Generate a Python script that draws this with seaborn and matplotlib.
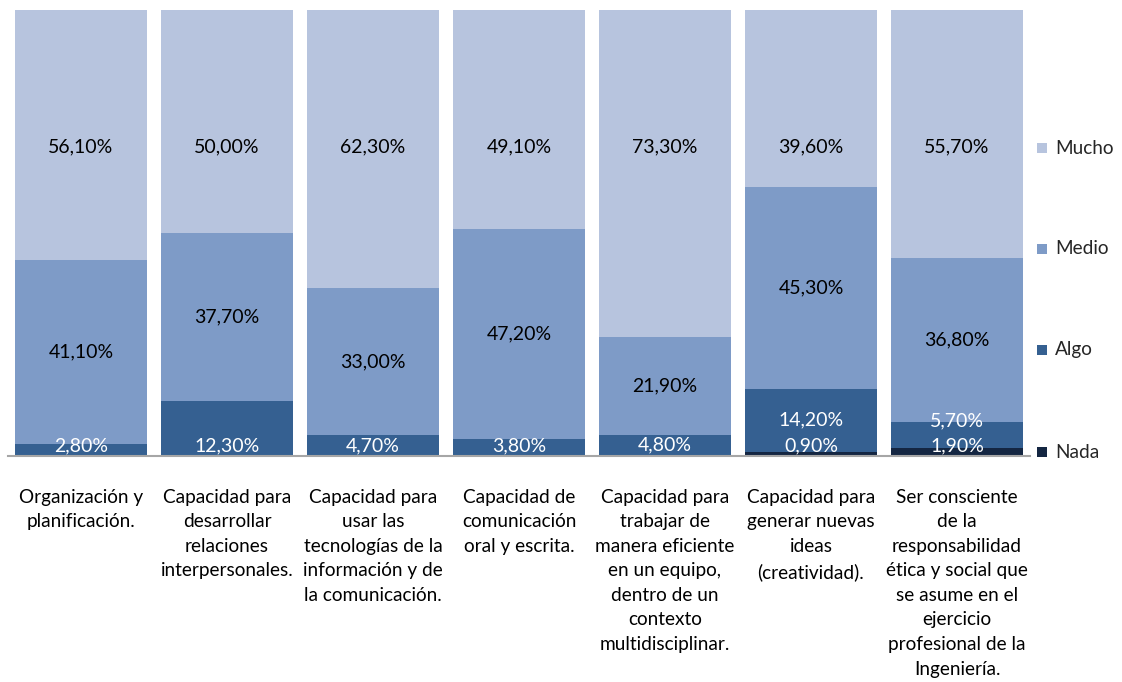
import numpy as np
import pandas as pd
import matplotlib
matplotlib.use("Agg")
import matplotlib.pyplot as plt
from matplotlib.patches import Rectangle
import seaborn as sns

categories = [
    "Organización y\nplanificación.",
    "Capacidad para\ndesarrollar\nrelaciones\ninterpersonales.",
    "Capacidad para\nusar las\ntecnologías de la\ninformación y de\nla comunicación.",
    "Capacidad de\ncomunicación\noral y escrita.",
    "Capacidad para\ntrabajar de\nmanera eficiente\nen un equipo,\ndentro de un\ncontexto\nmultidisciplinar.",
    "Capacidad para\ngenerar nuevas\nideas\n(creatividad).",
    "Ser consciente\nde la\nresponsabilidad\nética y social que\nse asume en el\nejercicio\nprofesional de la\nIngeniería.",
]
series_names = ["Nada", "Algo", "Medio", "Mucho"]
nada = [0.0, 0.0, 0.0, 0.0, 0.0, 0.9, 1.9]
algo = [2.8, 12.3, 4.7, 3.8, 4.8, 14.2, 5.7]
medio = [41.1, 37.7, 33.0, 47.2, 21.9, 45.3, 36.8]
mucho = [56.1, 50.0, 62.3, 49.1, 73.3, 39.6, 55.7]

colors = {"Nada": "#142642", "Algo": "#356091", "Medio": "#7E9BC7", "Mucho": "#B7C4DE"}
label_colors = {"Nada": "white", "Algo": "white", "Medio": "black", "Mucho": "black"}

df = pd.DataFrame({"Nada": nada, "Algo": algo, "Medio": medio, "Mucho": mucho})
df["pos"] = range(len(categories))
# 100% stacked: normalise each bar
totals = df[series_names].sum(axis=1)
share = df[series_names].div(totals, axis=0) * 100
cum = share.cumsum(axis=1)

sns.set_style("white")
plt.rcParams["font.family"] = ["Lato", "DejaVu Sans"]

PX_TOP, PX_BASE = 10, 456
fig = plt.figure(figsize=(11.22, 6.82), dpi=100)
ax = fig.add_axes([8 / 1122, 1 - PX_BASE / 682, (1030 - 8) / 1122, (PX_BASE - PX_TOP) / 682])

for name in reversed(series_names):
    plot_df = pd.DataFrame({"pos": df["pos"], "val": cum[name]})
    sns.barplot(data=plot_df, x="pos", y="val", color=colors[name], width=0.91,
                saturation=1, ax=ax, native_scale=False, linewidth=0)

ax.set_ylim(0, 100)
ax.set_xlim(-0.5, len(categories) - 0.5)
for s in ["top", "left", "right"]:
    ax.spines[s].set_visible(False)
ax.spines["bottom"].set_color("#A6A6A6")
ax.spines["bottom"].set_linewidth(1.5)
ax.set_yticks([])
ax.set_ylabel("")
ax.set_xlabel("")
ax.set_xticks(range(len(categories)))
ax.set_xticklabels(categories, fontsize=13.7, linespacing=1.54, color="#000000")
ax.tick_params(axis="x", length=0, pad=23.5)

# legend rows (pixel centres)
leg_y = {"Mucho": 148, "Medio": 249, "Algo": 350, "Nada": 452}


def px_to_data(ypx):
    return (PX_BASE - ypx) / (PX_BASE - PX_TOP) * 100


# data labels
for i in range(len(categories)):
    prev_y = None
    for name in series_names:
        v = df.loc[i, name]
        if v <= 0:
            continue
        bottom = cum.loc[i, name] - share.loc[i, name]
        y = bottom + share.loc[i, name] / 2
        if name == "Mucho":
            y = px_to_data(147)
        y = max(y, 2.3)
        if prev_y is not None and y - prev_y < 5.5:
            y = prev_y + 5.5
        if name == "Algo" and i == 1:
            y = 2.3
        prev_y = y
        txt = f"{v:.2f}".replace(".", ",") + "%"
        ax.text(i, y, txt, ha="center", va="center", fontsize=14,
                color=label_colors[name])

for name in series_names:
    yc = leg_y[name]
    fig.patches.append(Rectangle((1037 / 1122, 1 - (yc + 5) / 682), 10 / 1122, 10 / 682,
                                 transform=fig.transFigure, facecolor=colors[name],
                                 edgecolor="none"))
    fig.text(1055 / 1122, 1 - yc / 682, name, ha="left", va="center", fontsize=13.7)

fig.savefig("out.png", dpi=100)
